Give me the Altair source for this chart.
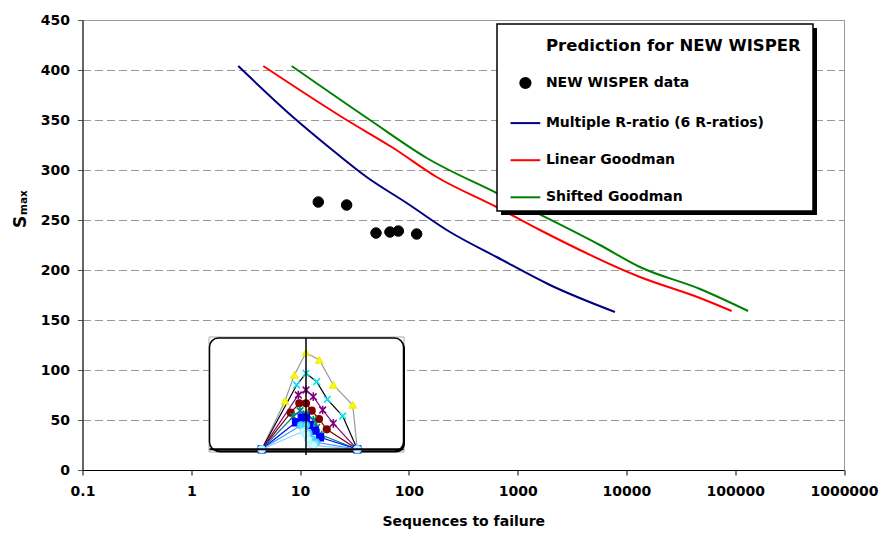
import altair as alt
import pandas as pd

FONT = "DejaVu Sans"

# ---------------- main chart data ----------------
series_names = ["NEW WISPER data", "Multiple R-ratio (6 R-ratios)", "Linear Goodman", "Shifted Goodman"]
series_colors = ["#000000", "#000080", "#FF0000", "#008000"]
legend_title = "Prediction for NEW WISPER"

wisper_n = [14.7, 26.8, 49.9, 67, 80, 118]
wisper_s = [268, 265, 237, 238, 239, 236]

multi_n = [2.70, 8.6, 18.8, 40.9, 95.5, 239, 641, 1982, 7840]
multi_s = [404, 353, 322, 293, 267, 238, 213, 185, 158]

linear_n = [4.59, 26.8, 71.9, 180, 641, 1603, 13300, 47400, 92700]
linear_s = [404, 350, 322, 293, 263, 240, 193, 172, 159]

shifted_n = [8.37, 43.9, 146, 641, 5700, 13300, 47400, 131500]
shifted_s = [404, 350, 312, 277, 225, 203, 181, 159]

x_ticks = [0.1, 1, 10, 100, 1000, 10000, 100000, 1000000]
y_ticks = [0, 50, 100, 150, 200, 250, 300, 350, 400, 450]

# ---------------- inset (constant life diagram) data ----------------
inset_names = ["L1", "L2", "L3", "L4", "L5", "L6", "L7", "L8"]
inset_u = [
    [-0.886, -0.42, -0.234, 0, 0.266, 0.546, 0.934, 1.026],
    [-0.886, -0.186, 0, 0.214, 0.426, 0.734, 1.026],
    [-0.886, -0.154, 0, 0.146, 0.334, 0.546, 1.026],
    [-0.886, -0.306, -0.134, 0, 0.114, 0.26, 0.414, 1.026],
    [-0.886, -0.25, -0.12, 0, 0.146, 0.214, 0.314, 1.026],
    [-0.886, -0.2, -0.086, 0, 0.066, 0.18, 0.28, 1.026],
    [-0.886, -0.1, 0, 0.05, 0.12, 0.2, 1.026],
    [-0.886, -0.05, 0, 0.04, 0.1, 0.15, 1.026],
]
inset_v = [
    [0, 0.483, 0.743, 0.966, 0.893, 0.643, 0.443, 0],
    [0, 0.643, 0.76, 0.676, 0.5, 0.333, 0],
    [0, 0.543, 0.593, 0.526, 0.393, 0.26, 0],
    [0, 0.366, 0.46, 0.46, 0.386, 0.303, 0.2, 0],
    [0, 0.33, 0.386, 0.353, 0.293, 0.22, 0.143, 0],
    [0, 0.27, 0.316, 0.316, 0.243, 0.186, 0.12, 0],
    [0, 0.24, 0.24, 0.16, 0.1, 0.07, 0],
    [0, 0.18, 0.15, 0.1, 0.05, 0.04, 0],
]
inset_line_colors = ["#999999", "#000000", "#800080", "#800000", "#008080", "#0000FF", "#3399FF", "#99CCFF"]
inset_marker_colors = ["#F0F000", "#00E5EE", "#800080", "#800000", "#008080", "#0000FF", "#33CCFF", "#B0F0FF"]
inset_marker_fills = ["#FFFF00", "transparent", "transparent", "#800000", "transparent", "#0000FF", "#66DDFF", "#CCFFFF"]
X_PATH = "M-1,-1L1,1M-1,1L1,-1"
STAR_PATH = "M-1,-1L1,1M-1,1L1,-1M0,-1.3L0,1.3"
inset_shapes = ["triangle-up", X_PATH, STAR_PATH, "circle", STAR_PATH, "square", "circle", "circle"]

LINE_SYMBOL = "M-2.9,0L2.9,0"

# ---------------- tables ----------------
rows = []
for name, ns, ss in [(series_names[1], multi_n, multi_s),
                     (series_names[2], linear_n, linear_s),
                     (series_names[3], shifted_n, shifted_s)]:
    for n, s in zip(ns, ss):
        rows.append({"series": name, "N": n, "S": s})
lines_df = pd.DataFrame(rows)
points_df = pd.DataFrame({"series": series_names[0], "N": wisper_n, "S": wisper_s})

irows = []
for name, us, vs in zip(inset_names, inset_u, inset_v):
    for u, v in zip(us, vs):
        irows.append({"curve": name, "u": u, "v": v})
inset_df = pd.DataFrame(irows)

one = pd.DataFrame({"k": [0]})

# ---------------- main layers ----------------
x_scale = alt.Scale(type="log", domain=[0.1, 1000000])
y_scale = alt.Scale(domain=[0, 450])
color_scale = alt.Scale(domain=series_names, range=series_colors)
shape_scale = alt.Scale(domain=series_names, range=["circle", LINE_SYMBOL, LINE_SYMBOL, LINE_SYMBOL])

x_axis = alt.Axis(values=x_ticks, grid=False, title="Sequences to failure",
                  labelExpr="datum.value < 1 ? '0.1' : format(datum.value, 'd')",
                  labelFont=FONT, labelFontSize=14, labelFontWeight="bold", labelColor="black",
                  labelPadding=9, tickSize=5, tickColor="black", domainColor="black",
                  titleFont=FONT, titleFontSize=14, titleFontWeight="bold", titleColor="black",
                  titlePadding=16, labelFlush=False, labelOverlap=False)
y_axis = alt.Axis(values=y_ticks, title=None, grid=True, gridColor="#999999", gridDash=[8, 4],
                  labelFont=FONT, labelFontSize=14, labelFontWeight="bold", labelColor="black",
                  labelPadding=8, tickSize=5, tickColor="#555555", domainColor="black")

legend_kw = dict(
    orient="none", legendX=426.9, legendY=56, title=None, zindex=2,
    labelFont=FONT, labelFontSize=14, labelFontWeight="bold", labelColor="black",
    labelOffset=13.5, labelLimit=320, symbolOffset=9, symbolSize=105, symbolStrokeWidth=2,
    symbolFillColor="black", rowPadding=23.1, padding=0,
)

points = alt.Chart(points_df).mark_point(filled=False, fill="black", size=110, opacity=1, strokeWidth=1).encode(
    x=alt.X("N:Q", scale=x_scale, axis=x_axis),
    y=alt.Y("S:Q", scale=y_scale, axis=y_axis),
    color=alt.Color("series:N", scale=color_scale, legend=alt.Legend(**legend_kw)),
    shape=alt.Shape("series:N", scale=shape_scale, legend=alt.Legend(**legend_kw)),
)
lines = alt.Chart(lines_df).mark_line(strokeWidth=2, interpolate="monotone").encode(
    x=alt.X("N:Q", scale=x_scale, axis=x_axis),
    y=alt.Y("S:Q", scale=y_scale, axis=y_axis),
    color=alt.Color("series:N", scale=color_scale, legend=alt.Legend(**legend_kw)),
)

# legend box, drop shadow and title (drawn above the curves)
legend_shadow = alt.Chart(one).mark_rect(color="black").encode(
    x=alt.value(418.5), x2=alt.value(734.5), y=alt.value(8), y2=alt.value(195))
legend_box = alt.Chart(one).mark_rect(fill="white", stroke="black", strokeWidth=1.5).encode(
    x=alt.value(414.5), x2=alt.value(730.5), y=alt.value(4), y2=alt.value(191))
legend_head = alt.Chart(one).mark_text(text=legend_title, font=FONT, fontSize=16.5, fontWeight="bold",
                                       align="left", baseline="alphabetic", color="black").encode(
    x=alt.value(463.5), y=alt.value(30.7))

main = alt.layer(points, lines, legend_shadow, legend_box, legend_head)

# y axis title S_max
s_text = alt.Chart(one).mark_text(text="S", font=FONT, fontSize=17, fontWeight="bold", angle=270,
                                  align="left", baseline="alphabetic", color="black").encode(
    x=alt.value(-56.5), y=alt.value(208))
max_text = alt.Chart(one).mark_text(text="max", font=FONT, fontSize=10.5, fontWeight="bold", angle=270,
                                    align="left", baseline="alphabetic", color="black").encode(
    x=alt.value(-55.5), y=alt.value(195))

# ---------------- inset ----------------
iu_scale = alt.Scale(domain=[-2, 2], range=[123.5, 323.5])
iv_scale = alt.Scale(domain=[0, 1], range=[429.3, 329.3])

frame = alt.Chart(one).mark_rect(fill="white", stroke="#aaaaaa", strokeWidth=1).encode(
    x=alt.value(126.5), x2=alt.value(321.5), y=alt.value(317), y2=alt.value(432))
box_shadow = alt.Chart(one).mark_rect(fill="black", cornerRadius=9).encode(
    x=alt.value(128.5), x2=alt.value(322.5), y=alt.value(319.5), y2=alt.value(432.5))
box = alt.Chart(one).mark_rect(fill="white", stroke="black", strokeWidth=1.5, cornerRadius=9).encode(
    x=alt.value(127), x2=alt.value(321), y=alt.value(318), y2=alt.value(431))
baseline = alt.Chart(one).mark_rule(color="black", strokeWidth=2).encode(
    x=alt.value(127), x2=alt.value(321), y=alt.datum(0, scale=iv_scale, axis=None))
center = alt.Chart(one).mark_rule(color="black", strokeWidth=1.5).encode(
    x=alt.datum(0, scale=iu_scale, axis=None), y=alt.value(318), y2=alt.value(435))

inset_lines = alt.Chart(inset_df).mark_line(strokeWidth=1.2).encode(
    x=alt.X("u:Q", scale=iu_scale, axis=None),
    y=alt.Y("v:Q", scale=iv_scale, axis=None),
    stroke=alt.Stroke("curve:N", scale=alt.Scale(domain=inset_names, range=inset_line_colors), legend=None),
)
inset_points = alt.Chart(inset_df).mark_point(filled=False, size=45, opacity=1, strokeWidth=1.5).encode(
    x=alt.X("u:Q", scale=iu_scale, axis=None),
    y=alt.Y("v:Q", scale=iv_scale, axis=None),
    color=alt.Color("curve:N", scale=alt.Scale(domain=inset_names, range=inset_marker_colors), legend=None),
    fill=alt.Fill("curve:N", scale=alt.Scale(domain=inset_names, range=inset_marker_fills), legend=None),
    shape=alt.Shape("curve:N", scale=alt.Scale(domain=inset_names, range=inset_shapes), legend=None),
)
inset = alt.layer(frame, box_shadow, box, inset_lines, inset_points, baseline, center)

chart = alt.layer(main, s_text, max_text, inset).resolve_scale(
    x="independent", y="independent", color="independent", shape="independent",
    stroke="independent", fill="independent",
).properties(
    width=761.5, height=450,
    autosize=alt.AutoSizeParams(type="none"),
    padding={"left": 82.5, "top": 20, "right": 36, "bottom": 64},
).configure_view(stroke="#999999", strokeWidth=1)

chart.save("out.html", embed_options={"renderer": "svg", "actions": False})
